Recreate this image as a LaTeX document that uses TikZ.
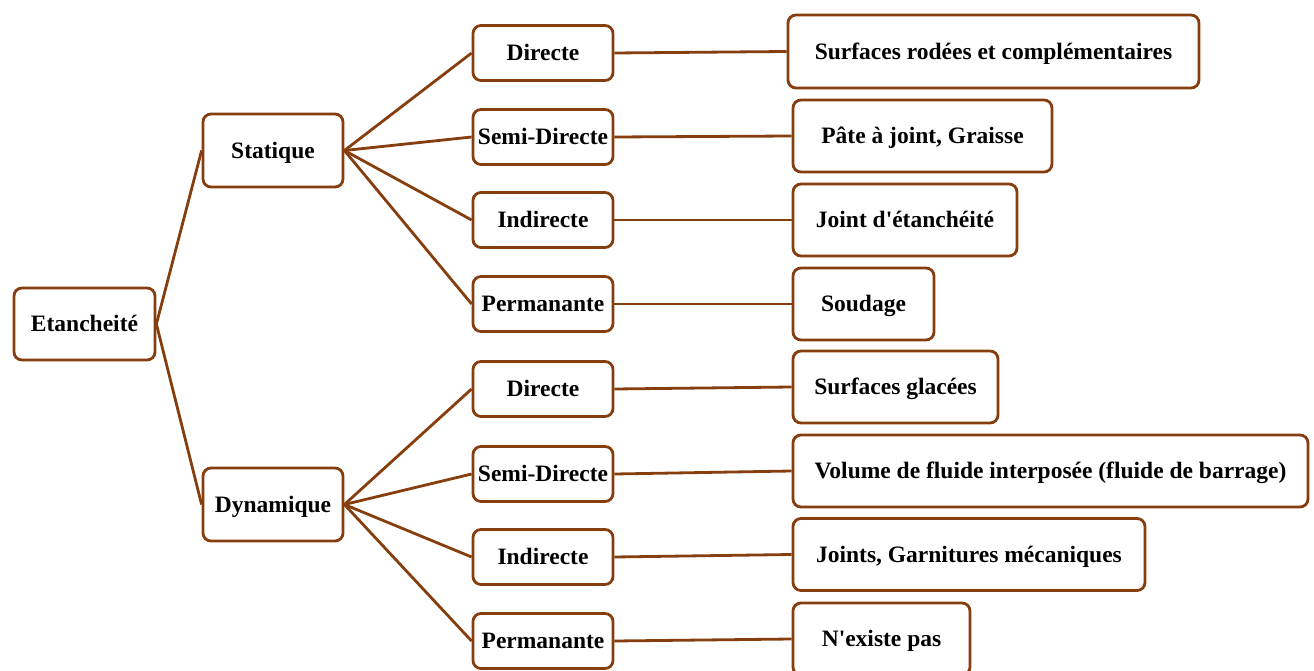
\documentclass[tikz,border=0pt]{standalone}
\usepackage{fontspec}
\setmainfont{Liberation Serif}
\usetikzlibrary{positioning}

\definecolor{BoxBrown}{RGB}{134,62,14}

\tikzset{
  box/.style={draw=BoxBrown, line width=2.8pt, rounded corners=8pt, fill=white,
    minimum width=140pt, minimum height=55pt, inner sep=0pt,
    text height=18pt, text depth=2.5pt,
    font=\fontsize{23.5}{26}\selectfont\bfseries},
  leaf/.style={box, minimum height=72pt},
  link/.style={draw=BoxBrown, line width=2.8pt}
}

\begin{document}
\begin{tikzpicture}[x=1pt, y=-1pt]
  \useasboundingbox (0,0) rectangle (1314,671);

  % racine et deux branches
  \node[box, minimum width=141pt, minimum height=72pt] (etan) at (84.5,324) {Etancheité};
  \node[box, minimum height=73pt] (stat) at (273,150.5) {Statique};
  \node[box, minimum height=73pt] (dyn) at (273,504.5) {Dynamique};

  % niveau 2
  \node[box] (sdir) at (543,53) {Directe};
  \node[box] (ssemi) at (543,137) {Semi-Directe};
  \node[box] (sind) at (543,220) {Indirecte};
  \node[box] (sperm) at (543,304) {Permanante};
  \node[box] (ddir) at (543,389) {Directe};
  \node[box] (dsemi) at (543,474) {Semi-Directe};
  \node[box] (dind) at (543,557) {Indirecte};
  \node[box] (dperm) at (543,641) {Permanante};

  % feuilles
  \node[leaf, minimum width=411pt, minimum height=73pt] (rsdir) at (993.5,51.5) {Surfaces rodées et complémentaires};
  \node[leaf, minimum width=259pt] (rssemi) at (922.5,136) {Pâte à joint, Graisse};
  \node[leaf, minimum width=224pt] (rsind) at (905,220) {Joint d\textquotesingle étanchéité};
  \node[leaf, minimum width=141pt] (rsperm) at (863.5,304) {Soudage};
  \node[leaf, minimum width=205pt] (rddir) at (895.5,387) {Surfaces glacées};
  \node[leaf, minimum width=515pt] (rdsemi) at (1050.5,471) {Volume de fluide interposée (fluide de barrage)};
  \node[leaf, minimum width=352pt] (rdind) at (969,554.5) {Joints, Garnitures mécaniques};
  \node[leaf, minimum width=177pt] (rdperm) at (881.5,639) {N\textquotesingle existe pas};

  \draw[link] (etan.east) -- (stat.west);
  \draw[link] (etan.east) -- (dyn.west);
  \foreach \m in {sdir,ssemi,sind,sperm}
    \draw[link] (stat.east) -- (\m.west);
  \foreach \m in {ddir,dsemi,dind,dperm}
    \draw[link] (dyn.east) -- (\m.west);
  \foreach \m in {sdir,ssemi,sind,sperm,ddir,dsemi,dind,dperm}
    \draw[link] (\m.east) -- (r\m.west);
\end{tikzpicture}
\end{document}
